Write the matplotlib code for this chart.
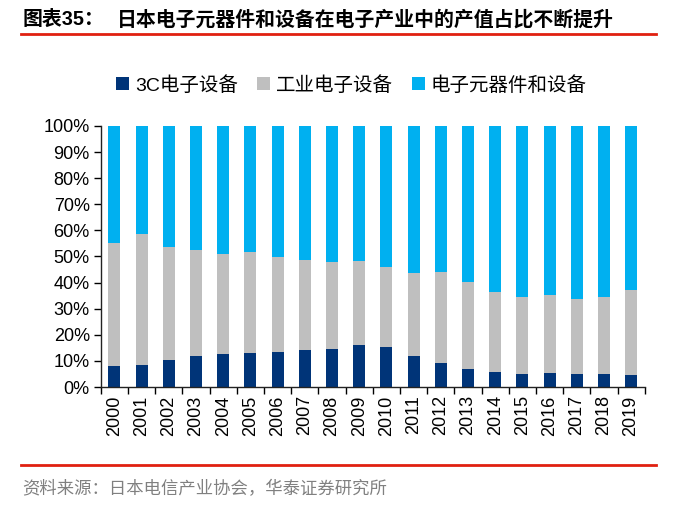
import matplotlib
matplotlib.use("Agg")
import matplotlib.pyplot as plt
from matplotlib.lines import Line2D
from matplotlib.patches import Patch
from matplotlib.ticker import FixedLocator, PercentFormatter

plt.rcParams['font.family'] = ['Liberation Sans', 'Noto Sans CJK SC', 'DejaVu Sans']

years = [str(y) for y in range(2000, 2020)]

# share of output value, %
consumer_3c = [8.0, 8.4, 10.2, 11.7, 12.5, 13.1, 13.5, 14.2, 14.7, 16.0,
               15.4, 11.9, 9.2, 6.9, 5.6, 5.0, 5.4, 5.0, 5.0, 4.6]
industrial_top = [55.3, 58.6, 53.8, 52.4, 51.0, 51.7, 49.9, 48.7, 47.9, 48.3,
                  46.1, 43.8, 44.1, 40.4, 36.4, 34.5, 35.2, 33.7, 34.4, 37.2]
industrial = [t - c for t, c in zip(industrial_top, consumer_3c)]
components = [100 - t for t in industrial_top]

series_names = ["3C电子设备", "工业电子设备", "电子元器件和设备"]
colors = ["#003478", "#BFBFBF", "#00B0F0"]

fig = plt.figure(figsize=(6.91, 5.16), dpi=100)
ax = fig.add_axes([0.146, 0.25, 0.787, 0.506])

x = list(range(len(years)))
bottom = [0] * len(years)
for vals, color in zip([consumer_3c, industrial, components], colors):
    ax.bar(x, vals, width=0.44, bottom=bottom, color=color, linewidth=0)
    bottom = [b + v for b, v in zip(bottom, vals)]

ax.set_xlim(-0.5, len(years) - 0.5)
ax.set_ylim(0, 100)
ax.set_yticks(range(0, 101, 10))
ax.yaxis.set_major_formatter(PercentFormatter(decimals=0))
ax.set_xticks(x)
ax.set_xticklabels(years, rotation=90)
ax.xaxis.set_minor_locator(FixedLocator([i - 0.5 for i in range(len(years) + 1)]))
ax.tick_params(axis="x", which="major", length=0, pad=6, labelsize=13)
ax.tick_params(axis="x", which="minor", length=5, width=1, direction="out")
ax.tick_params(axis="y", length=5, width=1, direction="out", labelsize=13, pad=3)

for side in ["top", "right"]:
    ax.spines[side].set_visible(False)
for side in ["left", "bottom"]:
    ax.spines[side].set_linewidth(1)
    ax.spines[side].set_color("#222222")

handles = [Patch(facecolor=c, edgecolor="none") for c in colors]
fig.legend(handles, series_names, loc="center left", bbox_to_anchor=(0.157, 0.835),
           ncol=3, frameon=False, fontsize=14, handlelength=0.65, handleheight=0.65,
           handletextpad=0.3, columnspacing=1.0, borderaxespad=0)

fig.text(0.033, 0.962, "图表35：", fontsize=14.3, fontweight="bold", va="center")
fig.text(0.169, 0.962, "日本电子元器件和设备在电子产业中的产值占比不断提升",
         fontsize=14.3, fontweight="bold", va="center")
fig.add_artist(Line2D([0.030, 0.949], [0.934, 0.934], color="#E02010", linewidth=2))
fig.add_artist(Line2D([0.030, 0.949], [0.099, 0.099], color="#E02010", linewidth=2))
fig.text(0.032, 0.054, "资料来源：日本电信产业协会，华泰证券研究所",
         fontsize=12.5, color="#808080", va="center")

fig.savefig("out.png", dpi=100)
